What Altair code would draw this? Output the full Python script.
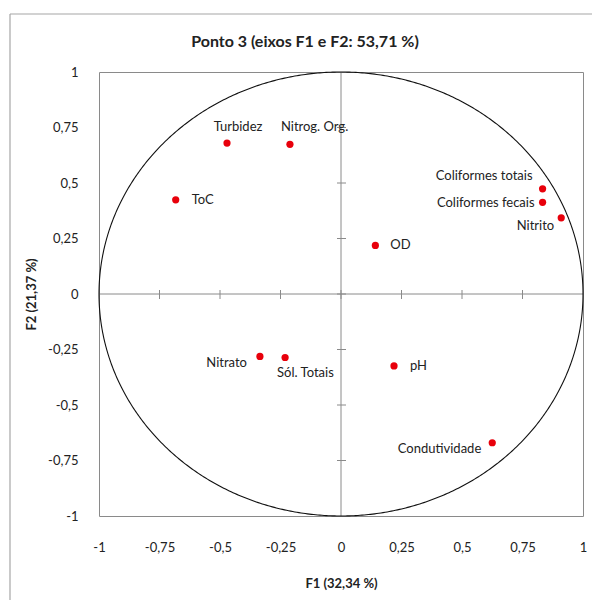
import altair as alt
import numpy as np
import pandas as pd

# ---- data ----
names = ["Turbidez", "Nitrog. Org.", "ToC", "OD", "Coliformes totais",
         "Coliformes fecais", "Nitrito", "Nitrato", "Sól. Totais", "pH",
         "Condutividade"]
f1 = [-0.471, -0.211, -0.683, 0.142, 0.833, 0.833, 0.910, -0.335, -0.231, 0.219, 0.625]
f2 = [0.680, 0.674, 0.424, 0.219, 0.474, 0.413, 0.343, -0.281, -0.286, -0.324, -0.670]

axis_ticks = [-1, -0.75, -0.5, -0.25, 0, 0.25, 0.5, 0.75, 1]
inner_ticks = [-0.75, -0.5, -0.25, 0, 0.25, 0.5, 0.75]

title_text = "Ponto 3 (eixos F1 e F2: 53,71 %)"
x_title = "F1 (32,34 %)"
y_title = "F2 (21,37 %)"

# label placement (style): align, dx, dy
placement = {
    "Turbidez": ("center", 11, -16),
    "Nitrog. Org.": ("left", -9, -17),
    "ToC": ("left", 16, 0),
    "OD": ("left", 15, 0),
    "Coliformes totais": ("right", -10, -13),
    "Coliformes fecais": ("right", -8, 1),
    "Nitrito": ("right", -7, 8),
    "Nitrato": ("right", -13, 7),
    "Sól. Totais": ("left", -8, 16),
    "pH": ("left", 16, 0),
    "Condutividade": ("right", -11, 6),
}

df = pd.DataFrame({"name": names, "f1": f1, "f2": f2})

# unit correlation circle (geometry)
theta = np.linspace(0, 2 * np.pi, 721)
circle = pd.DataFrame({"cx": np.cos(theta), "cy": np.sin(theta), "o": np.arange(len(theta))})

ticks_df = pd.DataFrame({"t": inner_ticks})

FONT = "Lato"
label_expr = "replace(toString(datum.value), '.', ',')"

xscale = alt.Scale(domain=[-1, 1], nice=False, zero=False)
yscale = alt.Scale(domain=[-1, 1], nice=False, zero=False)

xaxis = alt.Axis(values=axis_ticks, labelExpr=label_expr, ticks=False,
                 domain=False, grid=False, labelPadding=25,
                 title=x_title, titlePadding=23, labelFlush=False)
yaxis = alt.Axis(values=axis_ticks, labelExpr=label_expr, ticks=False,
                 domain=False, grid=False, labelPadding=21,
                 title=y_title, titlePadding=9, labelFlush=False)


def X(f):
    return alt.X(f, scale=xscale, axis=xaxis)


def Y(f):
    return alt.Y(f, scale=yscale, axis=yaxis)


base = alt.Chart(df)

circ = alt.Chart(circle).mark_line(color="#111111", strokeWidth=1.1).encode(
    x=X("cx:Q"), y=Y("cy:Q"), order="o:Q",
)

tk = alt.Chart(ticks_df).transform_calculate(z="0")

vline = tk.mark_rule(color="#8a8a8a", strokeWidth=1).encode(
    x=X("z:Q"), y=alt.value(0), y2=alt.value(444)
).transform_filter("datum.t == 0")
hline = tk.mark_rule(color="#8a8a8a", strokeWidth=1).encode(
    y=Y("z:Q"), x=alt.value(0), x2=alt.value(484)
).transform_filter("datum.t == 0")

vticks = tk.mark_rule(color="#8a8a8a", xOffset=-4, x2Offset=5).encode(
    y=Y("t:Q"), x=X("z:Q"), x2="z:Q",
)
hticks = tk.mark_rule(color="#8a8a8a", yOffset=-4, y2Offset=5).encode(
    x=X("t:Q"), y=Y("z:Q"), y2="z:Q",
)

# outer frame of the figure (left and top edges visible)
frame_v = tk.mark_rule(color="#a6a6a6", strokeWidth=1.2).encode(
    x=alt.value(-89), y=alt.value(-58), y2=alt.value(800)
).transform_filter("datum.t == 0")
frame_h = tk.mark_rule(color="#a6a6a6", strokeWidth=1.2).encode(
    y=alt.value(-58), x=alt.value(-89), x2=alt.value(800)
).transform_filter("datum.t == 0")

points = base.mark_circle(color="#e8000b", opacity=1, size=52).encode(x=X("f1:Q"), y=Y("f2:Q"))

label_layers = []
for n in names:
    al, dx, dy = placement[n]
    label_layers.append(
        base.mark_text(align=al, baseline="middle", dx=dx, dy=dy, font=FONT,
                       fontSize=13, color="#222222").encode(
            x=X("f1:Q"), y=Y("f2:Q"), text="name:N",
        ).transform_filter(alt.datum.name == n)
    )

chart = alt.layer(frame_v, frame_h, vline, hline, vticks, hticks, circ, points,
                  *label_layers).properties(
    width=484, height=444,
    autosize=alt.AutoSizeParams(type="none"),
    padding={"left": 91, "top": 64, "right": 9, "bottom": 84},
    title=alt.TitleParams(title_text, anchor="middle", frame="group", font=FONT, dx=-36,
                          dy=37, fontSize=16, fontWeight="bold", color="#222222", offset=0),
).configure_view(stroke="#8a8a8a", strokeWidth=1).configure_axis(
    labelFont=FONT, labelFontSize=13, labelColor="#222222",
    titleFont=FONT, titleFontSize=13, titleFontWeight="bold", titleColor="#222222",
)

chart.save("out.html", embed_options={"renderer": "svg", "actions": False})
